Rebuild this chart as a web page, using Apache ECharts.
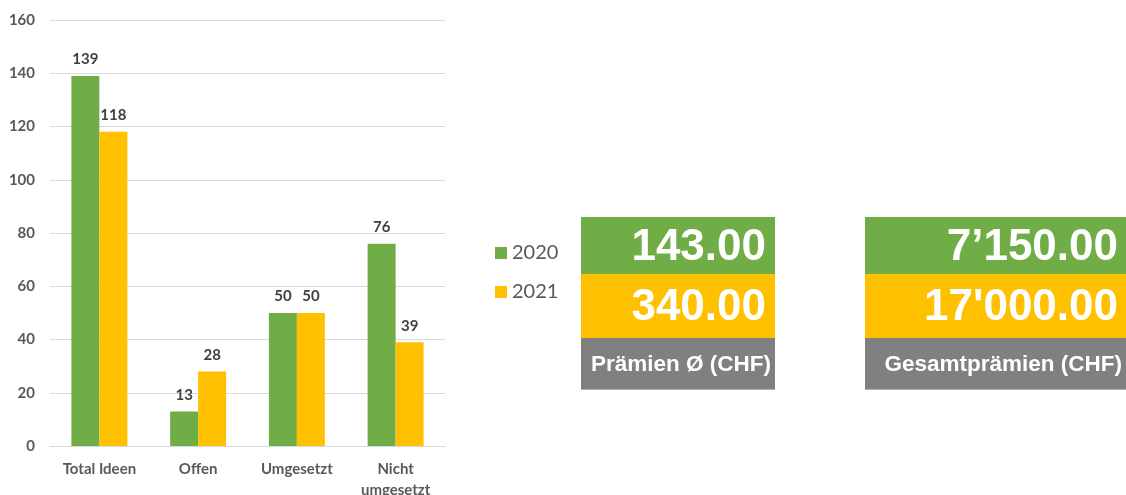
<!DOCTYPE html>
<html>
<head>
<meta charset="utf-8">
<script src="https://cdn.jsdelivr.net/npm/echarts@6/dist/echarts.min.js"></script>
<style>
html,body{margin:0;padding:0;background:#fff;}
#chart{width:1126px;height:495px;}
</style>
</head>
<body>
<div id="chart"></div>
<script>
var categories = ['Total Ideen', 'Offen', 'Umgesetzt', 'Nicht\numgesetzt'];
var seriesNames = ['2020', '2021'];
var values2020 = [139, 13, 50, 76];
var values2021 = [118, 28, 50, 39];
var yTicks = [0, 20, 40, 60, 80, 100, 120, 140, 160];
var boxValues2020 = ['143.00', '7\u2019150.00'];
var boxValues2021 = ['340.00', '17\'000.00'];
var boxLabels = ['Pr\u00e4mien \u00d8 (CHF)', 'Gesamtpr\u00e4mien (CHF)'];

var GREEN = '#70AD47', YELLOW = '#FFC000', GRAY = '#808080';

var boxes = [
  {x: 581, w: 194, textRight: 766, labelRight: 771},
  {x: 865, w: 261, textRight: 1118, labelRight: 1122}
];
var graphic = [];
boxes.forEach(function (b, i) {
  graphic.push({type: 'rect', shape: {x: b.x, y: 217, width: b.w, height: 57}, style: {fill: GREEN}});
  graphic.push({type: 'rect', shape: {x: b.x, y: 274, width: b.w, height: 64}, style: {fill: YELLOW}});
  graphic.push({type: 'rect', shape: {x: b.x, y: 338, width: b.w, height: 52}, style: {fill: GRAY}});
  graphic.push({type: 'rect', shape: {x: b.x, y: 389, width: b.w, height: 1}, style: {fill: '#b0b0b0'}});
  graphic.push({type: 'text', x: b.textRight, y: 247.5, style: {text: boxValues2020[i], fill: '#fff', font: 'bold 44px "Liberation Sans", Arial, sans-serif', textAlign: 'right', textVerticalAlign: 'middle'}});
  graphic.push({type: 'text', x: b.textRight, y: 307.5, style: {text: boxValues2021[i], fill: '#fff', font: 'bold 44px "Liberation Sans", Arial, sans-serif', textAlign: 'right', textVerticalAlign: 'middle'}});
  graphic.push({type: 'text', x: b.labelRight, y: 364.5, style: {text: boxLabels[i], fill: '#fff', font: 'bold 22.5px "Liberation Sans", Arial, sans-serif', textAlign: 'right', textVerticalAlign: 'middle'}});
});

var labelStyle = {show: true, position: 'top', distance: 9, color: '#404040', fontFamily: 'Lato', fontWeight: 'bold', fontSize: 15};

var chart = echarts.init(document.getElementById('chart'), null, {renderer: 'canvas'});
chart.setOption({
  animation: false,
  color: [GREEN, YELLOW],
  grid: {left: 50, top: 20, width: 395, height: 426, containLabel: false, outerBoundsMode: 'none'},
  legend: {
    orient: 'vertical', left: 490, top: 238, icon: 'rect', itemWidth: 12, itemHeight: 12, itemGap: 19,
    data: seriesNames,
    textStyle: {color: '#595959', fontFamily: 'Lato', fontSize: 20, lineHeight: 20}
  },
  xAxis: {
    type: 'category', data: categories,
    axisLine: {lineStyle: {color: '#d9d9d9'}}, axisTick: {show: false},
    axisLabel: {color: '#595959', fontFamily: 'Lato', fontWeight: 'bold', fontSize: 15, lineHeight: 21, margin: 13, interval: 0}
  },
  yAxis: {
    type: 'value', min: yTicks[0], max: yTicks[yTicks.length - 1], interval: 20,
    axisLine: {show: false}, axisTick: {show: false},
    splitLine: {lineStyle: {color: '#d9d9d9', width: 1}},
    axisLabel: {color: '#595959', fontFamily: 'Lato', fontWeight: 'bold', fontSize: 15, margin: 15}
  },
  series: [
    {name: seriesNames[0], type: 'bar', data: values2020, barWidth: 28, barGap: '0%', label: labelStyle},
    {name: seriesNames[1], type: 'bar', data: values2021, barWidth: 28, barGap: '0%', label: labelStyle}
  ],
  graphic: graphic
});
</script>
</body>
</html>
